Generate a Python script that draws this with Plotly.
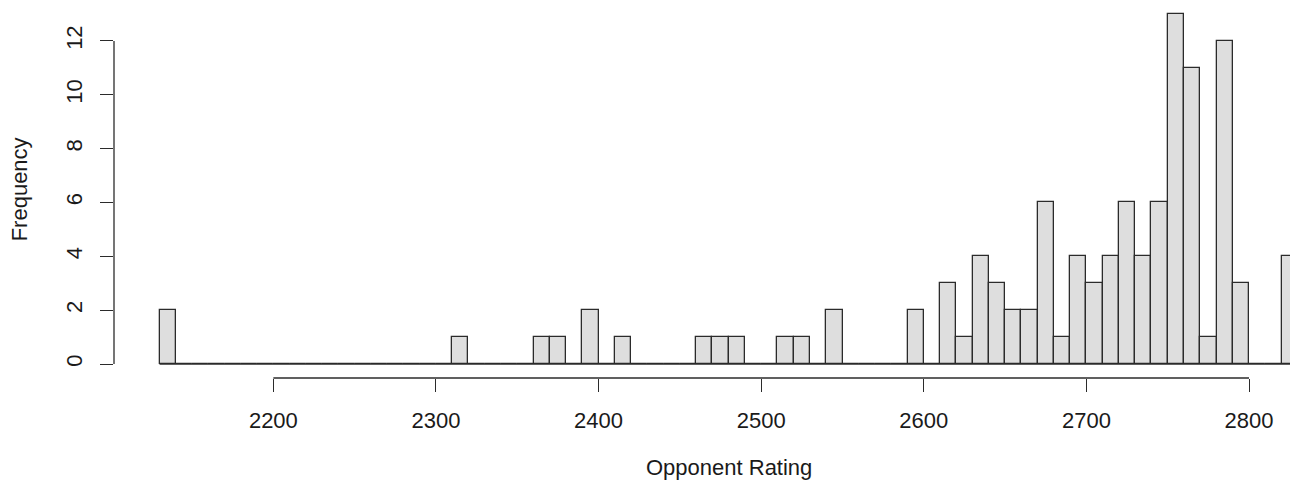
import plotly.graph_objects as go

# Histogram of opponent ratings, 10-point bins starting at 2130
bin_width = 10
first_bin = 2130
counts = [
    2,                                                     # 2130
    0, 0, 0, 0, 0, 0, 0, 0, 0, 0, 0, 0, 0, 0, 0, 0, 0,     # 2140-2300
    1,                                                     # 2310
    0, 0, 0, 0,                                            # 2320-2350
    1, 1, 0, 2, 0, 1,                                      # 2360-2410
    0, 0, 0, 0,                                            # 2420-2450
    1, 1, 1, 0, 0, 1, 1, 0, 2,                             # 2460-2540
    0, 0, 0, 0,                                            # 2550-2580
    2, 0, 3, 1, 4, 3, 2, 2, 6, 1, 4,                       # 2590-2690
    3, 4, 6, 4, 6, 13, 11, 1, 12, 3,                       # 2700-2790
    0, 0, 4,                                               # 2800-2820
]
x_ticks = [2200, 2300, 2400, 2500, 2600, 2700, 2800]
y_ticks = [0, 2, 4, 6, 8, 10, 12]

edges = [first_bin + i * bin_width for i in range(len(counts) + 1)]
centers = [e + bin_width / 2 for e in edges[:-1]]

ink = "#2b2b2b"
font = dict(family="Liberation Sans, Arial, sans-serif", size=22, color="#1a1a1a")

fig = go.Figure()
fig.add_trace(go.Bar(
    x=centers, y=counts, width=bin_width,
    marker=dict(color="#dedede", line=dict(color=ink, width=1.3)),
    hoverinfo="x+y",
))
# baseline along the full bin range
fig.add_trace(go.Scatter(
    x=[edges[0], edges[-1]], y=[0, 0], mode="lines",
    line=dict(color=ink, width=1.3), hoverinfo="skip",
))

span = edges[-1] - edges[0]
x_lo = edges[0] - 0.04 * span
x_mid = (edges[0] + edges[-1]) / 2
y_hi = max(counts) * 1.04
y_lo = -max(counts) * 0.04

fig.update_layout(
    width=1290, height=485,
    margin=dict(l=113.5, r=0, t=0, b=107),
    plot_bgcolor="white", paper_bgcolor="white",
    showlegend=False, bargap=0,
    font=font,
    xaxis=dict(
        range=[x_lo, 2825.2], tickvals=x_ticks, ticks="outside", ticklen=13,
        tickwidth=1.3, tickcolor=ink, showline=False, showgrid=False,
        zeroline=False, tickfont=font, ticklabelstandoff=10,
    ),
    yaxis=dict(
        range=[y_lo, y_hi], tickvals=y_ticks, ticks="outside", ticklen=13,
        tickwidth=1.3, tickcolor=ink, showline=False, showgrid=False,
        zeroline=False, tickangle=-90, tickfont=font, ticklabelstandoff=9,
    ),
    shapes=[
        dict(type="line", xref="x", yref="paper", x0=x_ticks[0], x1=x_ticks[-1],
             y0=0, y1=0, line=dict(color=ink, width=1.3)),
        dict(type="line", xref="paper", yref="y", x0=0, x1=0,
             y0=y_ticks[0], y1=y_ticks[-1], line=dict(color=ink, width=1.3)),
    ],
    annotations=[
        dict(text="Opponent Rating", xref="x", yref="paper", x=x_mid, y=-0.238,
             showarrow=False, font=font, xanchor="center", yanchor="middle"),
        dict(text="Frequency", xref="paper", yref="paper", x=-0.0805, y=0.5,
             showarrow=False, font=font, textangle=-90,
             xanchor="center", yanchor="middle"),
    ],
)

fig.write_html("out.html")
